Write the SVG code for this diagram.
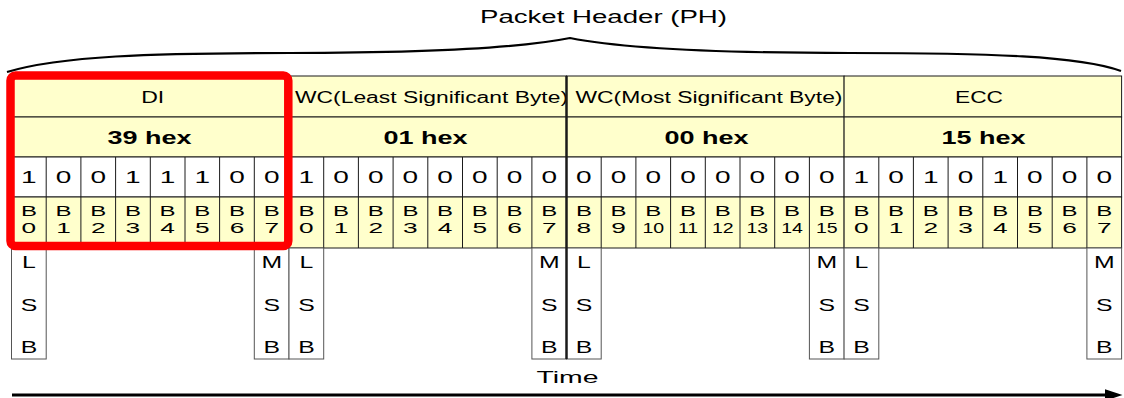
<svg xmlns="http://www.w3.org/2000/svg" width="1124" height="398" viewBox="0 0 1124 398">
<style>
.y{fill:#FFFFCC;stroke:#1a1a1a;stroke-width:1}
.w{fill:#FFFFFF;stroke:#1a1a1a;stroke-width:1}
.grid{stroke:#1a1a1a;stroke-width:1;fill:none}
.box{fill:#FFFFFF;stroke:#555555;stroke-width:1}
text{font-family:"Liberation Sans",Arial,sans-serif;fill:#000000;text-anchor:middle}
.hd{font-size:16px}
.hx{font-size:17.5px;font-weight:bold}
.bit{font-size:16px}
.bl{font-size:15px}
.sb{font-size:16px}
.ttl{font-size:17.5px}
</style>
<defs>
<marker id="ah" markerWidth="6" markerHeight="4" refX="0.5" refY="2" orient="auto" markerUnits="strokeWidth">
<path d="M0,0 L6,2 L0,4 Z" fill="#000"/>
</marker>
</defs>
<rect width="1124" height="398" fill="#FFFFFF"/>

<g id="title">
<text class="ttl" x="603.5" y="23" textLength="247" lengthAdjust="spacingAndGlyphs">Packet Header (PH)</text>
</g>

<g id="byte-DI">
<rect class="y" x="11.5" y="76" width="277.5" height="41"/>
<rect class="y" x="11.5" y="117" width="277.5" height="40"/>
<rect class="w" x="11.5" y="157" width="277.5" height="40"/>
<rect class="y" x="11.5" y="197" width="277.5" height="51"/>
<path class="grid" d="M46.2,157V248M80.9,157V248M115.6,157V248M150.3,157V248M185,157V248M219.6,157V248M254.3,157V248"/>
<text class="hd" x="152.7" y="102.5" textLength="23" lengthAdjust="spacingAndGlyphs">DI</text>
<text class="hx" x="149.5" y="143.5" textLength="84" lengthAdjust="spacingAndGlyphs">39 hex</text>
<text class="bit" transform="translate(28.9 183.3) scale(1.75 1)">1</text>
<text class="bit" transform="translate(63.5 183.3) scale(1.75 1)">0</text>
<text class="bit" transform="translate(98.2 183.3) scale(1.75 1)">0</text>
<text class="bit" transform="translate(132.9 183.3) scale(1.75 1)">1</text>
<text class="bit" transform="translate(167.6 183.3) scale(1.75 1)">1</text>
<text class="bit" transform="translate(202.3 183.3) scale(1.75 1)">1</text>
<text class="bit" transform="translate(237 183.3) scale(1.75 1)">0</text>
<text class="bit" transform="translate(271.7 183.3) scale(1.75 1)">0</text>
<text class="bl" transform="translate(28.9 215.7) scale(1.6 1)">B</text>
<text class="bl" transform="translate(63.5 215.7) scale(1.6 1)">B</text>
<text class="bl" transform="translate(98.2 215.7) scale(1.6 1)">B</text>
<text class="bl" transform="translate(132.9 215.7) scale(1.6 1)">B</text>
<text class="bl" transform="translate(167.6 215.7) scale(1.6 1)">B</text>
<text class="bl" transform="translate(202.3 215.7) scale(1.6 1)">B</text>
<text class="bl" transform="translate(237 215.7) scale(1.6 1)">B</text>
<text class="bl" transform="translate(271.7 215.7) scale(1.6 1)">B</text>
<text class="bl" transform="translate(28.9 233.3) scale(1.75 1)">0</text>
<text class="bl" transform="translate(63.5 233.3) scale(1.75 1)">1</text>
<text class="bl" transform="translate(98.2 233.3) scale(1.75 1)">2</text>
<text class="bl" transform="translate(132.9 233.3) scale(1.75 1)">3</text>
<text class="bl" transform="translate(167.6 233.3) scale(1.75 1)">4</text>
<text class="bl" transform="translate(202.3 233.3) scale(1.75 1)">5</text>
<text class="bl" transform="translate(237 233.3) scale(1.75 1)">6</text>
<text class="bl" transform="translate(271.7 233.3) scale(1.75 1)">7</text>
<rect class="box" x="11.5" y="248" width="34.7" height="111"/>
<rect class="box" x="254.3" y="248" width="34.7" height="111"/>
<text class="sb" transform="translate(28.9 267.7) scale(1.55 1)">L</text>
<text class="sb" transform="translate(28.9 311) scale(1.55 1)">S</text>
<text class="sb" transform="translate(28.9 353.3) scale(1.55 1)">B</text>
<text class="sb" transform="translate(271.7 267.7) scale(1.55 1)">M</text>
<text class="sb" transform="translate(271.7 311) scale(1.55 1)">S</text>
<text class="sb" transform="translate(271.7 353.3) scale(1.55 1)">B</text>
</g>

<g id="byte-WC-LS">
<rect class="y" x="289" y="76" width="277.5" height="41"/>
<rect class="y" x="289" y="117" width="277.5" height="40"/>
<rect class="w" x="289" y="157" width="277.5" height="40"/>
<rect class="y" x="289" y="197" width="277.5" height="51"/>
<path class="grid" d="M323.7,157V248M358.4,157V248M393.1,157V248M427.8,157V248M462.5,157V248M497.2,157V248M531.9,157V248"/>
<text class="hd" x="431.5" y="102.5" textLength="273" lengthAdjust="spacingAndGlyphs">WC(Least Significant Byte)</text>
<text class="hx" x="425.5" y="143.5" textLength="84" lengthAdjust="spacingAndGlyphs">01 hex</text>
<text class="bit" transform="translate(306.4 183.3) scale(1.75 1)">1</text>
<text class="bit" transform="translate(341.1 183.3) scale(1.75 1)">0</text>
<text class="bit" transform="translate(375.8 183.3) scale(1.75 1)">0</text>
<text class="bit" transform="translate(410.4 183.3) scale(1.75 1)">0</text>
<text class="bit" transform="translate(445.1 183.3) scale(1.75 1)">0</text>
<text class="bit" transform="translate(479.8 183.3) scale(1.75 1)">0</text>
<text class="bit" transform="translate(514.5 183.3) scale(1.75 1)">0</text>
<text class="bit" transform="translate(549.2 183.3) scale(1.75 1)">0</text>
<text class="bl" transform="translate(306.4 215.7) scale(1.6 1)">B</text>
<text class="bl" transform="translate(341.1 215.7) scale(1.6 1)">B</text>
<text class="bl" transform="translate(375.8 215.7) scale(1.6 1)">B</text>
<text class="bl" transform="translate(410.4 215.7) scale(1.6 1)">B</text>
<text class="bl" transform="translate(445.1 215.7) scale(1.6 1)">B</text>
<text class="bl" transform="translate(479.8 215.7) scale(1.6 1)">B</text>
<text class="bl" transform="translate(514.5 215.7) scale(1.6 1)">B</text>
<text class="bl" transform="translate(549.2 215.7) scale(1.6 1)">B</text>
<text class="bl" transform="translate(306.4 233.3) scale(1.75 1)">0</text>
<text class="bl" transform="translate(341.1 233.3) scale(1.75 1)">1</text>
<text class="bl" transform="translate(375.8 233.3) scale(1.75 1)">2</text>
<text class="bl" transform="translate(410.4 233.3) scale(1.75 1)">3</text>
<text class="bl" transform="translate(445.1 233.3) scale(1.75 1)">4</text>
<text class="bl" transform="translate(479.8 233.3) scale(1.75 1)">5</text>
<text class="bl" transform="translate(514.5 233.3) scale(1.75 1)">6</text>
<text class="bl" transform="translate(549.2 233.3) scale(1.75 1)">7</text>
<rect class="box" x="289" y="248" width="34.7" height="111"/>
<rect class="box" x="531.9" y="248" width="34.6" height="111"/>
<text class="sb" transform="translate(306.4 267.7) scale(1.55 1)">L</text>
<text class="sb" transform="translate(306.4 311) scale(1.55 1)">S</text>
<text class="sb" transform="translate(306.4 353.3) scale(1.55 1)">B</text>
<text class="sb" transform="translate(549.2 267.7) scale(1.55 1)">M</text>
<text class="sb" transform="translate(549.2 311) scale(1.55 1)">S</text>
<text class="sb" transform="translate(549.2 353.3) scale(1.55 1)">B</text>
</g>

<g id="byte-WC-MS">
<rect class="y" x="566.5" y="76" width="277.6" height="41"/>
<rect class="y" x="566.5" y="117" width="277.6" height="40"/>
<rect class="w" x="566.5" y="157" width="277.6" height="40"/>
<rect class="y" x="566.5" y="197" width="277.6" height="51"/>
<path class="grid" d="M601.2,157V248M635.9,157V248M670.6,157V248M705.3,157V248M740,157V248M774.7,157V248M809.4,157V248"/>
<text class="hd" x="709" y="102.5" textLength="267" lengthAdjust="spacingAndGlyphs">WC(Most Significant Byte)</text>
<text class="hx" x="706.5" y="143.5" textLength="84" lengthAdjust="spacingAndGlyphs">00 hex</text>
<text class="bit" transform="translate(583.9 183.3) scale(1.75 1)">0</text>
<text class="bit" transform="translate(618.6 183.3) scale(1.75 1)">0</text>
<text class="bit" transform="translate(653.3 183.3) scale(1.75 1)">0</text>
<text class="bit" transform="translate(688 183.3) scale(1.75 1)">0</text>
<text class="bit" transform="translate(722.7 183.3) scale(1.75 1)">0</text>
<text class="bit" transform="translate(757.3 183.3) scale(1.75 1)">0</text>
<text class="bit" transform="translate(792 183.3) scale(1.75 1)">0</text>
<text class="bit" transform="translate(826.7 183.3) scale(1.75 1)">0</text>
<text class="bl" transform="translate(583.9 215.7) scale(1.6 1)">B</text>
<text class="bl" transform="translate(618.6 215.7) scale(1.6 1)">B</text>
<text class="bl" transform="translate(653.3 215.7) scale(1.6 1)">B</text>
<text class="bl" transform="translate(688 215.7) scale(1.6 1)">B</text>
<text class="bl" transform="translate(722.7 215.7) scale(1.6 1)">B</text>
<text class="bl" transform="translate(757.3 215.7) scale(1.6 1)">B</text>
<text class="bl" transform="translate(792 215.7) scale(1.6 1)">B</text>
<text class="bl" transform="translate(826.7 215.7) scale(1.6 1)">B</text>
<text class="bl" transform="translate(583.9 233.3) scale(1.75 1)">8</text>
<text class="bl" transform="translate(618.6 233.3) scale(1.75 1)">9</text>
<text class="bl" transform="translate(653.3 233.3) scale(1.3 1)">10</text>
<text class="bl" transform="translate(688 233.3) scale(1.3 1)">11</text>
<text class="bl" transform="translate(722.7 233.3) scale(1.3 1)">12</text>
<text class="bl" transform="translate(757.3 233.3) scale(1.3 1)">13</text>
<text class="bl" transform="translate(792 233.3) scale(1.3 1)">14</text>
<text class="bl" transform="translate(826.7 233.3) scale(1.3 1)">15</text>
<rect class="box" x="566.5" y="248" width="34.7" height="111"/>
<rect class="box" x="809.4" y="248" width="34.7" height="111"/>
<text class="sb" transform="translate(583.9 267.7) scale(1.55 1)">L</text>
<text class="sb" transform="translate(583.9 311) scale(1.55 1)">S</text>
<text class="sb" transform="translate(583.9 353.3) scale(1.55 1)">B</text>
<text class="sb" transform="translate(826.7 267.7) scale(1.55 1)">M</text>
<text class="sb" transform="translate(826.7 311) scale(1.55 1)">S</text>
<text class="sb" transform="translate(826.7 353.3) scale(1.55 1)">B</text>
</g>

<g id="byte-ECC">
<rect class="y" x="844.1" y="76" width="277.5" height="41"/>
<rect class="y" x="844.1" y="117" width="277.5" height="40"/>
<rect class="w" x="844.1" y="157" width="277.5" height="40"/>
<rect class="y" x="844.1" y="197" width="277.5" height="51"/>
<path class="grid" d="M878.8,157V248M913.4,157V248M948.1,157V248M982.8,157V248M1017.5,157V248M1052.2,157V248M1086.9,157V248"/>
<text class="hd" x="979" y="102.5" textLength="48" lengthAdjust="spacingAndGlyphs">ECC</text>
<text class="hx" x="983.5" y="143.5" textLength="84" lengthAdjust="spacingAndGlyphs">15 hex</text>
<text class="bit" transform="translate(861.4 183.3) scale(1.75 1)">1</text>
<text class="bit" transform="translate(896.1 183.3) scale(1.75 1)">0</text>
<text class="bit" transform="translate(930.8 183.3) scale(1.75 1)">1</text>
<text class="bit" transform="translate(965.5 183.3) scale(1.75 1)">0</text>
<text class="bit" transform="translate(1000.2 183.3) scale(1.75 1)">1</text>
<text class="bit" transform="translate(1034.9 183.3) scale(1.75 1)">0</text>
<text class="bit" transform="translate(1069.6 183.3) scale(1.75 1)">0</text>
<text class="bit" transform="translate(1104.2 183.3) scale(1.75 1)">0</text>
<text class="bl" transform="translate(861.4 215.7) scale(1.6 1)">B</text>
<text class="bl" transform="translate(896.1 215.7) scale(1.6 1)">B</text>
<text class="bl" transform="translate(930.8 215.7) scale(1.6 1)">B</text>
<text class="bl" transform="translate(965.5 215.7) scale(1.6 1)">B</text>
<text class="bl" transform="translate(1000.2 215.7) scale(1.6 1)">B</text>
<text class="bl" transform="translate(1034.9 215.7) scale(1.6 1)">B</text>
<text class="bl" transform="translate(1069.6 215.7) scale(1.6 1)">B</text>
<text class="bl" transform="translate(1104.2 215.7) scale(1.6 1)">B</text>
<text class="bl" transform="translate(861.4 233.3) scale(1.75 1)">0</text>
<text class="bl" transform="translate(896.1 233.3) scale(1.75 1)">1</text>
<text class="bl" transform="translate(930.8 233.3) scale(1.75 1)">2</text>
<text class="bl" transform="translate(965.5 233.3) scale(1.75 1)">3</text>
<text class="bl" transform="translate(1000.2 233.3) scale(1.75 1)">4</text>
<text class="bl" transform="translate(1034.9 233.3) scale(1.75 1)">5</text>
<text class="bl" transform="translate(1069.6 233.3) scale(1.75 1)">6</text>
<text class="bl" transform="translate(1104.2 233.3) scale(1.75 1)">7</text>
<rect class="box" x="844.1" y="248" width="34.7" height="111"/>
<rect class="box" x="1086.9" y="248" width="34.7" height="111"/>
<text class="sb" transform="translate(861.4 267.7) scale(1.55 1)">L</text>
<text class="sb" transform="translate(861.4 311) scale(1.55 1)">S</text>
<text class="sb" transform="translate(861.4 353.3) scale(1.55 1)">B</text>
<text class="sb" transform="translate(1104.2 267.7) scale(1.55 1)">M</text>
<text class="sb" transform="translate(1104.2 311) scale(1.55 1)">S</text>
<text class="sb" transform="translate(1104.2 353.3) scale(1.55 1)">B</text>
</g>

<g id="separator">
<path d="M566.5,76V359" stroke="#1a1a1a" stroke-width="2.5" fill="none"/>
</g>

<g id="highlight-DI">
<rect x="10.5" y="75.5" width="277.8" height="170.5" rx="5" fill="none" stroke="#FF0000" stroke-width="8.5"/>
</g>

<g id="time-label">
<text class="sb" x="567.5" y="383.3" textLength="62" lengthAdjust="spacingAndGlyphs">Time</text>
</g>

<g id="connectors">
<path d="M7,72 C60,56 150,53 290,53 C430,53 520,48 570,38 C620,48 710,53 850,53 C990,53 1080,56 1121,71" fill="none" stroke="#000" stroke-width="2.2"/>
<path d="M12,395 H1106" fill="none" stroke="#000" stroke-width="3" marker-end="url(#ah)"/>
</g>
</svg>
